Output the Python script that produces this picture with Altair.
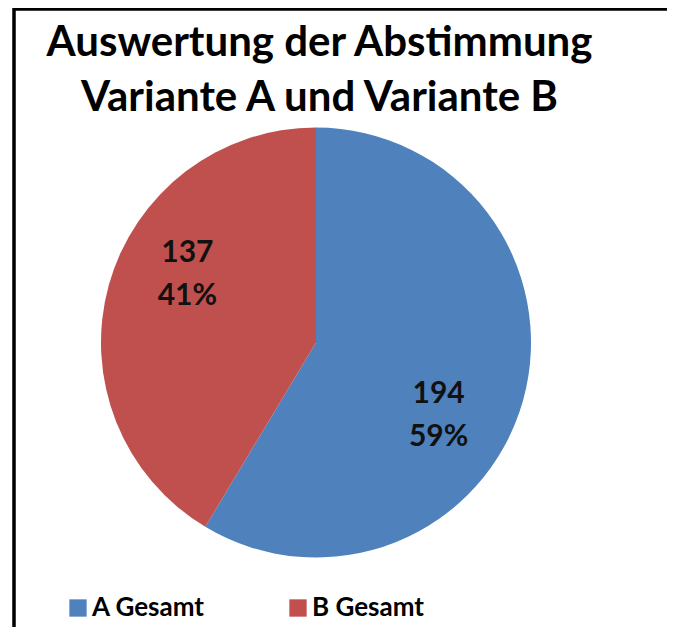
import altair as alt
import pandas as pd

categories = ["A Gesamt", "B Gesamt"]
values = [194, 137]
colors = ["#4F81BD", "#C0504D"]
title_lines = ["Auswertung der Abstimmung", "Variante A und Variante B"]

df = pd.DataFrame({"kategorie": categories, "anzahl": values, "reihenfolge": list(range(len(categories)))})

W, H = 659, 619
PAD_TOP = 120
VH = H - PAD_TOP
CX, CY = 308, 334.5 - PAD_TOP
R = 215

base = alt.Chart(df).transform_joinaggregate(
    gesamt="sum(anzahl)"
).transform_calculate(
    label="toString(datum.anzahl) + '\\n' + format(datum.anzahl / datum.gesamt, '.0%')"
)

arc = base.mark_arc(outerRadius=R, strokeWidth=0).encode(
    theta=alt.Theta("anzahl:Q", stack=True),
    order=alt.Order("reihenfolge:O"),
    color=alt.Color(
        "kategorie:N",
        scale=alt.Scale(domain=categories, range=colors),
        legend=alt.Legend(
            title=None,
            orient="none",
            direction="horizontal",
            legendX=57,
            legendY=467,
            symbolType="square",
            symbolSize=300,
            symbolStrokeWidth=0,
            labelFont="Lato",
            labelFontSize=26,
            labelFontWeight="bold",
            labelColor="#000000",
            labelOffset=1,
            columnPadding=80,
            padding=0,
        ),
    ),
    x=alt.value(CX),
    y=alt.value(CY),
)

off = 0.24
text = base.mark_text(
    radius=144, font="Lato", fontSize=30, fontWeight="bold", color="#111111",
    lineBreak="\n", lineHeight=43, baseline="middle", align="center", dy=-19, dx=-3
).encode(
    theta=alt.Theta("anzahl:Q", stack=True, scale=alt.Scale(range=[off, 6.283185 + off])),
    order=alt.Order("reihenfolge:O"),
    text="label:N",
    x=alt.value(CX),
    y=alt.value(CY),
)

left_line = alt.Chart(df).mark_rule(color="#000000", strokeWidth=3).encode(
    x=alt.value(6), y=alt.value(-PAD_TOP), y2=alt.value(VH + 10)
)
top_line = alt.Chart(df).mark_rule(color="#000000", strokeWidth=3).encode(
    x=alt.value(5), x2=alt.value(W + 10), y=alt.value(-PAD_TOP + 1)
)

chart = alt.layer(arc, text, left_line, top_line).resolve_scale(theta="independent").properties(
    width=W,
    height=VH,
    padding={"left": 0, "right": 0, "top": PAD_TOP, "bottom": 0},
    autosize=alt.AutoSizeParams(type="none"),
    title=alt.TitleParams(
        text=title_lines,
        anchor="middle",
        font="Lato",
        fontSize=42,
        fontWeight="bold",
        color="#000000",
        lineHeight=55,
        offset=0,
        dx=-18,
        dy=113,
    ),
).configure_view(stroke=None)

chart.save("out.html", embed_options={"renderer": "svg", "actions": False})
